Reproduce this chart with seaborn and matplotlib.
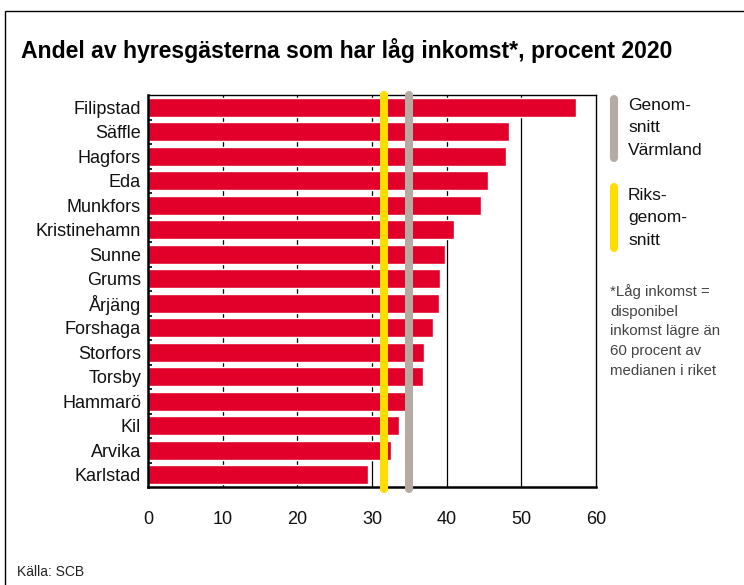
import matplotlib
matplotlib.use("Agg")
import matplotlib.pyplot as plt
import seaborn as sns
import pandas as pd
from matplotlib.lines import Line2D
from matplotlib.patches import Rectangle

# --- Data ---
kommuner = ["Filipstad", "Säffle", "Hagfors", "Eda", "Munkfors", "Kristinehamn",
            "Sunne", "Grums", "Årjäng", "Forshaga", "Storfors", "Torsby",
            "Hammarö", "Kil", "Arvika", "Karlstad"]
andel = [57.3, 48.3, 47.9, 45.6, 44.6, 41.0, 39.8, 39.1, 39.0, 38.2, 36.9, 36.8,
         34.5, 33.6, 32.6, 29.5]
snitt_varmland = 35.0
riks_snitt = 31.6
x_ticks = [0, 10, 20, 30, 40, 50, 60]

RED = "#E2002A"
YELLOW = "#FFDD00"
GREY = "#B6ABA3"

df = pd.DataFrame({"kommun": kommuner, "andel": andel})

sns.set_theme(style="white")
plt.rcParams["font.family"] = ["Liberation Sans", "DejaVu Sans"]

fig = plt.figure(figsize=(7.44, 5.85), dpi=100)
ax = fig.add_axes([148 / 744, 1 - 487 / 585, 448 / 744, 392 / 585])

sns.barplot(data=df, x="andel", y="kommun", orient="h", color=RED,
            saturation=1, width=0.77, ax=ax, zorder=2)

# reference lines, reach a bit outside the plot box
for val, col in [(riks_snitt, YELLOW), (snitt_varmland, GREY)]:
    ax.plot([val, val], [-0.5, len(kommuner) - 0.4], color=col, lw=5.8,
            solid_capstyle="round", clip_on=False, zorder=4)

ax.set_xlim(0, 60)
ax.set_ylim(len(kommuner) - 0.5, -0.5)
ax.set_xticks(x_ticks)
ax.set_xticklabels([str(t) for t in x_ticks])
for t in x_ticks[1:-1]:
    ax.axvline(t, color="black", lw=0.9, zorder=1)

ax.set_xlabel("")
ax.set_ylabel("")
ax.tick_params(axis="x", length=0, pad=17, labelsize=13, colors="#111111")
ax.tick_params(axis="y", length=0, pad=5, labelsize=13, colors="#111111")
ax.set_yticks([i + 0.5 for i in range(len(kommuner) - 1)], minor=True)
ax.tick_params(axis="y", which="minor", direction="in", length=3, width=1.2,
               color="black", left=True)

for side, lw in [("left", 1.8), ("bottom", 1.8), ("top", 1.0), ("right", 1.0)]:
    ax.spines[side].set_visible(True)
    ax.spines[side].set_color("black")
    ax.spines[side].set_linewidth(lw)

# title and source
fig.text(21 / 744, 1 - 58 / 585, "Andel av hyresgästerna som har låg inkomst*, procent 2020",
         fontsize=16.6, fontweight="bold", color="black", va="baseline", ha="left")
fig.text(17 / 744, 1 - 572 / 585, "Källa: SCB", fontsize=10, color="#222222",
         va="center", ha="left")

# legend on the right
fig.add_artist(Line2D([614 / 744, 614 / 744], [1 - 99 / 585, 1 - 158 / 585],
                      color=GREY, lw=5.8, solid_capstyle="round"))
fig.add_artist(Line2D([614 / 744, 614 / 744], [1 - 187 / 585, 1 - 248 / 585],
                      color=YELLOW, lw=5.8, solid_capstyle="round"))
fig.text(628 / 744, 1 - 98 / 585, "Genom-\nsnitt\nVärmland", fontsize=12.5,
         va="top", ha="left", color="#111111", linespacing=1.62)
fig.text(628 / 744, 1 - 188 / 585, "Riks-\ngenom-\nsnitt", fontsize=12.5,
         va="top", ha="left", color="#111111", linespacing=1.62)
fig.text(610 / 744, 1 - 284 / 585,
         "*Låg inkomst =\ndisponibel\ninkomst lägre än\n60 procent av\nmedianen i riket",
         fontsize=10.8, va="top", ha="left", color="#444444", linespacing=1.52)

# outer frame
fig.add_artist(Rectangle((5 / 744, -0.05), 1.0, 1 - 11 / 585 + 0.05,
                         transform=fig.transFigure, fill=False,
                         edgecolor="black", lw=1.0))

fig.savefig("out.png", dpi=100)
